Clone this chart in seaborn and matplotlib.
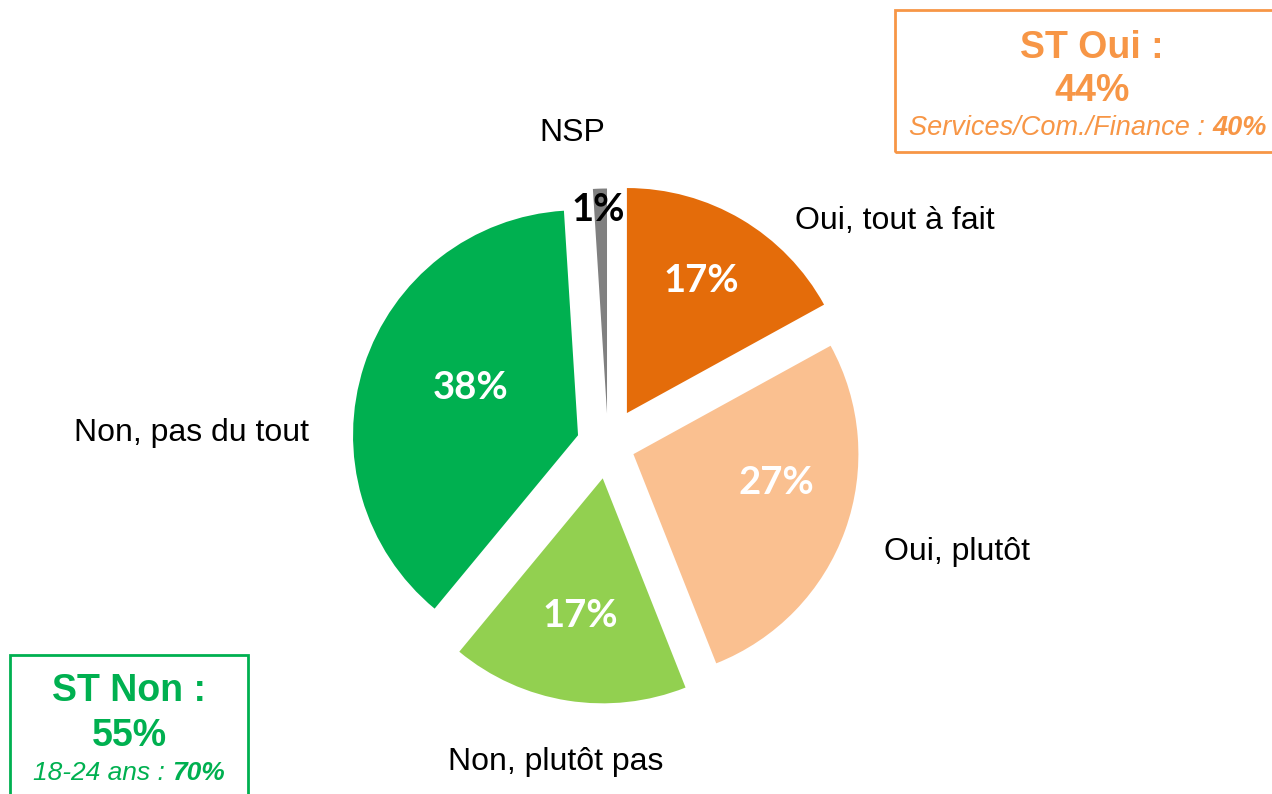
import matplotlib.pyplot as plt
import seaborn as sns
from matplotlib.patches import Rectangle

# data
labels = ["Oui, tout à fait", "Oui, plutôt", "Non, plutôt pas", "Non, pas du tout", "NSP"]
values = [17, 27, 17, 38, 1]
colors = ["#E46C0A", "#FAC090", "#92D050", "#00B050", "#808080"]
pct_text = ["17%", "27%", "17%", "38%", "1%"]
pct_color = ["white", "white", "white", "white", "black"]

sns.set_style("white")
plt.rcParams["font.family"] = ["Liberation Sans", "DejaVu Sans"]

W, H = 1272, 794
fig = plt.figure(figsize=(W / 100, H / 100), dpi=100)

# pie centre ~ (608, 445) px, radius ~225 px
cx, cy, r = 608, 445, 225
span = 1.3
side = 2 * span * r
ax = fig.add_axes([(cx - side / 2) / W, (H - cy - side / 2) / H, side / W, side / H])

wedges, _ = ax.pie(values, colors=colors, startangle=90, counterclock=False,
                   explode=[0.165, 0.12, 0.15, 0.14, 0.14], radius=1.0,
                   wedgeprops=dict(linewidth=0))
ax.set_xlim(-span, span)
ax.set_ylim(-span, span)
ax.set_aspect("equal")
ax.axis("off")

# label and percentage positions (pie units)
label_pos = [(1.276, 0.996), (1.551, -0.475), (-0.231, -1.409), (-1.849, 0.054), (-0.16, 1.387)]
pct_pos = [(0.413, 0.729), (0.747, -0.169), (-0.124, -0.760), (-0.609, 0.254), (-0.044, 1.045)]

for lab, (x, y) in zip(labels, label_pos):
    ax.text(x, y, lab, ha="center", va="center", fontsize=23, color="black")
for t, c, (x, y) in zip(pct_text, pct_color, pct_pos):
    ax.text(x, y, t, ha="center", va="center", fontsize=27.5, fontweight="bold",
            color=c, family=["Lato", "DejaVu Sans"])


def fx(px):
    return px / W


def fy(py):
    return 1 - py / H


# summary boxes
oui_col = "#F79646"
non_col = "#00B050"
fig.patches.append(Rectangle((fx(895), fy(152)), fx(1280) - fx(895), fy(10) - fy(152),
                             transform=fig.transFigure, fill=False, edgecolor=oui_col,
                             linewidth=2, clip_on=False))
fig.patches.append(Rectangle((fx(10), fy(800)), fx(248) - fx(10), fy(655) - fy(800),
                             transform=fig.transFigure, fill=False, edgecolor=non_col,
                             linewidth=2, clip_on=False))

fig.text(fx(1092), fy(48), "ST Oui :", ha="center", va="center", fontsize=27,
         fontweight="bold", color=oui_col)
fig.text(fx(1092), fy(91), "44%", ha="center", va="center", fontsize=27,
         fontweight="bold", color=oui_col)
fig.text(fx(1212), fy(128), "Services/Com./Finance : ", ha="right", va="center",
         fontsize=19.5, style="italic", color=oui_col)
fig.text(fx(1212), fy(128), "40%", ha="left", va="center", fontsize=19.5,
         style="italic", fontweight="bold", color=oui_col)

fig.text(fx(129), fy(691), "ST Non :", ha="center", va="center", fontsize=27,
         fontweight="bold", color=non_col)
fig.text(fx(129), fy(736), "55%", ha="center", va="center", fontsize=27,
         fontweight="bold", color=non_col)
fig.text(fx(172), fy(773), "18-24 ans : ", ha="right", va="center",
         fontsize=19, style="italic", color=non_col)
fig.text(fx(172), fy(773), "70%", ha="left", va="center", fontsize=19,
         style="italic", fontweight="bold", color=non_col)

fig.savefig("out.png", dpi=100, facecolor="white")
